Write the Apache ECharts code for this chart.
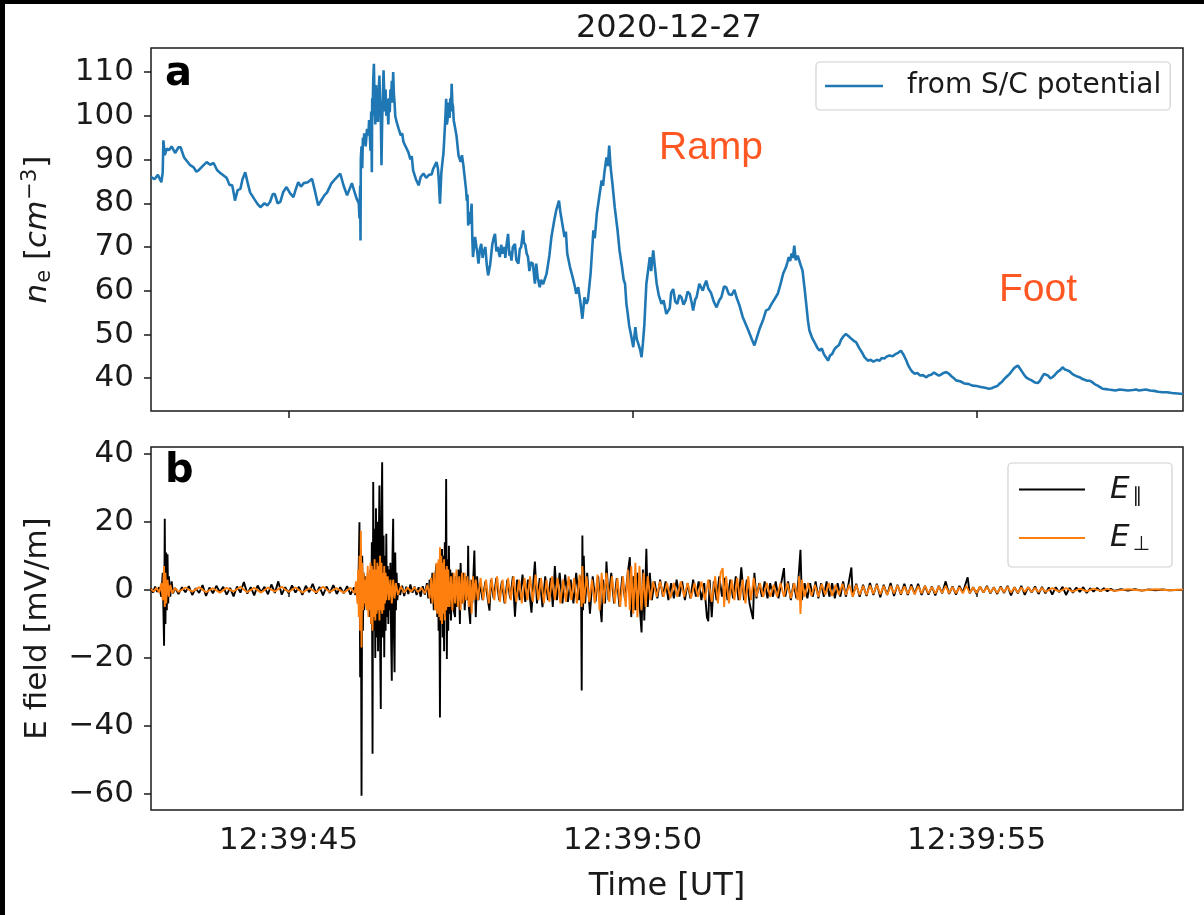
<!DOCTYPE html>
<html>
<head>
<meta charset="utf-8">
<script src="https://cdn.jsdelivr.net/npm/echarts@6/dist/echarts.min.js"></script>
<style>
html,body{margin:0;padding:0;background:#fff;}
#chart{width:1204px;height:915px;}
</style>
</head>
<body>
<div id="chart"></div>
<script>
// ---------- data (time in seconds after 12:39:00 UT) ----------
const dateTitle = '2020-12-27';
const xTickValues = [45, 50, 55];
const xTickLabels = ['12:39:45', '12:39:50', '12:39:55'];
const neTickValues = [40, 50, 60, 70, 80, 90, 100, 110];
const eTickValues = [-60, -40, -20, 0, 20, 40];
const seriesNames = ['from S/C potential', 'Epar', 'Eperp'];

// electron density from S/C potential [cm^-3]
const neData = [
[43.00,86.0],[43.05,85.5],[43.10,86.5],[43.15,84.8],[43.17,87.0],[43.18,94.4],[43.20,91.0],[43.23,92.5],[43.26,92.1],[43.30,93.0],
[43.35,91.5],[43.40,92.8],[43.43,92.8],[43.48,90.5],[43.53,89.5],[43.57,88.7],[43.62,88.2],[43.66,87.2],[43.69,87.5],[43.75,88.5],
[43.81,89.4],[43.86,88.8],[43.91,89.2],[43.96,87.6],[44.00,87.0],[44.05,86.4],[44.10,85.8],[44.14,84.2],[44.18,84.1],[44.20,82.5],
[44.22,80.6],[44.26,83.0],[44.30,83.3],[44.33,85.5],[44.37,87.1],[44.40,85.0],[44.44,82.5],[44.50,81.0],[44.55,79.8],[44.59,79.1],
[44.65,80.0],[44.69,79.5],[44.73,80.3],[44.77,82.1],[44.80,82.1],[44.84,80.0],[44.88,80.3],[44.92,82.5],[44.97,83.7],[45.02,82.3],
[45.07,81.4],[45.10,83.0],[45.14,84.8],[45.18,83.8],[45.22,84.6],[45.28,84.8],[45.34,85.6],[45.38,83.0],[45.43,79.5],[45.48,80.8],
[45.52,81.8],[45.56,82.5],[45.62,84.5],[45.68,85.6],[45.75,86.8],[45.80,84.0],[45.85,81.8],[45.88,83.0],[45.92,84.6],[45.95,83.0],
[45.99,81.0],[46.02,80.0],[46.03,76.5],[46.04,84.0],[46.045,71.5],[46.05,90.2],[46.06,93.0],[46.07,88.0],[46.08,95.0],[46.09,94.0],
[46.10,96.0],[46.12,93.0],[46.14,97.0],[46.16,95.5],[46.17,99.0],[46.18,96.0],[46.19,92.0],[46.20,101.0],[46.21,87.1],[46.215,104.0],
[46.22,100.0],[46.23,108.0],[46.24,111.9],[46.25,102.0],[46.26,98.0],[46.27,107.0],[46.28,104.0],[46.29,100.0],[46.30,98.6],[46.31,106.0],
[46.32,109.2],[46.33,103.0],[46.34,100.0],[46.35,88.7],[46.36,99.0],[46.37,104.0],[46.38,110.4],[46.39,105.0],[46.40,101.0],[46.41,106.0],
[46.42,100.0],[46.43,103.9],[46.44,101.0],[46.45,98.0],[46.46,104.0],[46.47,100.8],[46.48,106.0],[46.49,104.0],[46.50,108.0],[46.51,103.0],
[46.52,110.0],[46.53,105.0],[46.54,103.0],[46.55,100.0],[46.57,98.6],[46.60,97.0],[46.63,95.5],[46.65,96.0],[46.67,94.0],[46.70,93.0],
[46.74,91.7],[46.77,90.0],[46.79,90.8],[46.81,87.5],[46.85,85.5],[46.89,84.1],[46.92,86.0],[46.96,86.8],[47.00,85.8],[47.04,86.5],
[47.08,86.6],[47.10,87.8],[47.12,88.0],[47.15,89.4],[47.17,88.0],[47.18,86.0],[47.20,79.9],[47.22,87.0],[47.24,90.0],[47.25,91.3],
[47.26,94.0],[47.27,97.0],[47.28,100.0],[47.29,103.9],[47.30,98.0],[47.31,99.0],[47.32,103.0],[47.33,101.6],[47.34,99.5],[47.35,104.0],
[47.36,101.0],[47.37,107.3],[47.38,103.0],[47.39,102.0],[47.40,99.0],[47.42,98.6],[47.44,95.5],[47.45,94.0],[47.47,90.9],[47.50,89.5],
[47.52,91.0],[47.54,88.7],[47.56,89.0],[47.58,83.0],[47.59,80.6],[47.60,82.0],[47.61,74.9],[47.63,78.0],[47.64,75.3],[47.66,79.9],
[47.67,72.0],[47.68,67.7],[47.70,71.0],[47.71,72.3],[47.73,70.0],[47.74,69.0],[47.76,66.2],[47.78,69.5],[47.80,70.7],[47.82,67.5],
[47.83,68.5],[47.86,70.0],[47.88,66.0],[47.90,63.5],[47.93,66.0],[47.96,70.5],[47.98,72.0],[48.00,73.0],[48.02,69.0],[48.04,70.0],
[48.07,67.7],[48.09,70.5],[48.11,68.5],[48.14,70.0],[48.15,67.5],[48.17,70.7],[48.19,73.0],[48.21,68.0],[48.22,69.0],[48.24,66.9],
[48.26,70.0],[48.29,70.7],[48.31,67.0],[48.34,66.2],[48.36,69.5],[48.38,70.0],[48.41,73.8],[48.42,71.0],[48.44,70.5],[48.46,68.5],
[48.48,67.7],[48.50,64.5],[48.52,66.5],[48.55,66.2],[48.58,61.6],[48.60,66.2],[48.62,63.0],[48.65,60.8],[48.67,62.5],[48.70,61.5],
[48.75,63.9],[48.79,68.0],[48.82,72.3],[48.86,76.0],[48.89,78.4],[48.93,80.6],[48.95,78.0],[48.97,76.1],[49.01,72.3],[49.03,73.5],
[49.05,68.5],[49.09,65.4],[49.13,63.0],[49.16,61.0],[49.18,59.3],[49.21,60.8],[49.24,57.5],[49.27,53.6],[49.30,58.5],[49.33,57.0],
[49.35,57.8],[49.39,64.0],[49.43,73.8],[49.45,72.0],[49.48,77.6],[49.52,82.0],[49.55,85.2],[49.57,84.0],[49.59,87.0],[49.62,90.5],
[49.64,88.5],[49.66,93.2],[49.68,88.3],[49.71,84.0],[49.74,79.1],[49.78,74.0],[49.81,69.2],[49.85,65.0],[49.87,62.5],[49.89,61.6],
[49.91,57.0],[49.93,54.7],[49.95,52.0],[49.97,50.5],[50.01,47.1],[50.04,51.7],[50.06,49.0],[50.08,48.0],[50.11,46.5],[50.13,44.8],
[50.15,48.0],[50.17,52.0],[50.20,61.6],[50.22,64.0],[50.25,67.7],[50.27,64.5],[50.30,69.2],[50.32,66.0],[50.35,61.6],[50.38,59.0],
[50.42,57.0],[50.45,57.8],[50.49,54.7],[50.54,56.0],[50.56,59.5],[50.59,60.4],[50.62,57.5],[50.65,57.0],[50.68,59.0],[50.71,58.5],
[50.74,56.8],[50.77,57.8],[50.80,59.8],[50.83,59.3],[50.86,57.2],[50.88,55.5],[50.91,58.0],[50.93,58.5],[50.97,61.6],[51.02,60.0],
[51.05,61.5],[51.07,62.3],[51.10,60.5],[51.14,59.5],[51.18,57.5],[51.22,56.2],[51.26,57.8],[51.29,58.5],[51.33,61.0],[51.36,60.8],
[51.40,59.2],[51.44,59.0],[51.48,60.2],[51.51,58.5],[51.55,56.8],[51.60,54.0],[51.64,52.5],[51.68,51.0],[51.73,49.0],[51.77,47.5],
[51.81,49.5],[51.85,51.5],[51.90,53.5],[51.94,55.5],[51.98,55.8],[52.02,57.0],[52.06,58.0],[52.11,59.3],[52.15,61.5],[52.19,64.0],
[52.23,65.4],[52.25,66.5],[52.27,67.7],[52.29,66.8],[52.31,68.5],[52.33,67.5],[52.35,70.3],[52.37,67.0],[52.40,68.0],[52.44,66.0],
[52.47,64.6],[52.50,60.5],[52.52,57.5],[52.55,53.0],[52.57,50.9],[52.61,49.2],[52.65,48.0],[52.69,46.8],[52.72,46.3],[52.75,46.8],
[52.78,45.5],[52.81,44.8],[52.84,44.0],[52.87,45.2],[52.90,45.5],[52.93,46.5],[52.96,47.1],[53.00,47.6],[53.03,48.8],[53.06,49.5],
[53.10,50.1],[53.14,49.6],[53.18,49.0],[53.21,48.6],[53.25,48.2],[53.29,47.0],[53.33,46.0],[53.37,44.8],[53.42,44.0],[53.46,44.2],
[53.50,43.8],[53.55,44.2],[53.59,44.0],[53.62,44.6],[53.66,44.5],[53.70,45.0],[53.73,45.2],[53.78,45.0],[53.82,45.5],[53.86,45.8],
[53.90,46.3],[53.94,45.3],[53.98,44.0],[54.01,42.8],[54.04,42.0],[54.07,41.4],[54.10,41.0],[54.14,41.2],[54.18,40.6],[54.22,40.7],
[54.27,40.2],[54.30,40.6],[54.34,40.8],[54.38,41.3],[54.41,41.0],[54.45,40.6],[54.48,40.8],[54.52,41.2],[54.56,41.4],[54.60,41.0],
[54.63,40.5],[54.67,40.0],[54.70,39.5],[54.76,39.3],[54.82,38.8],[54.88,38.7],[54.94,38.3],[55.00,38.2],[55.06,38.0],[55.12,37.8],
[55.18,37.6],[55.22,37.7],[55.26,38.0],[55.30,38.2],[55.33,38.7],[55.37,39.2],[55.40,39.8],[55.44,40.4],[55.48,41.0],[55.51,41.6],
[55.54,42.2],[55.57,42.6],[55.60,42.9],[55.63,42.2],[55.66,41.5],[55.69,40.8],[55.72,40.2],[55.76,39.8],[55.80,39.5],[55.85,39.0],
[55.89,38.9],[55.92,39.4],[55.94,39.8],[55.96,40.5],[55.98,41.0],[56.01,40.8],[56.04,40.6],[56.07,40.0],[56.10,40.2],[56.14,40.8],
[56.18,41.5],[56.21,41.8],[56.25,42.5],[56.28,42.0],[56.32,41.8],[56.35,41.6],[56.39,41.0],[56.42,40.7],[56.46,40.4],[56.50,40.2],
[56.54,39.8],[56.58,39.6],[56.61,39.4],[56.65,39.4],[56.68,39.1],[56.72,38.6],[56.76,38.3],[56.80,37.9],[56.83,37.6],[56.88,37.5],
[56.92,37.4],[56.97,37.3],[57.02,37.2],[57.08,37.4],[57.14,37.3],[57.20,37.2],[57.27,37.3],[57.32,37.4],[57.36,37.2],[57.41,37.3],
[57.46,37.4],[57.52,37.2],[57.58,37.1],[57.64,36.9],[57.70,36.8],[57.77,36.8],[57.84,36.6],[57.92,36.5],[58.00,36.4]
];

// parallel electric field [mV/m]
const eParData = [
[43.00,0.5],[43.03,-0.8],[43.06,1.0],[43.09,-0.6],[43.12,0.8],[43.15,-2],[43.17,5],[43.19,-16.4],[43.20,20.9],[43.21,-10],
[43.22,11],[43.23,-6],[43.24,10.5],[43.25,-4],[43.26,4],[43.28,-2],[43.30,2.5],[43.32,-1],
[43.35,0.6],[43.40,-1.2],[43.45,0.8],[43.50,-0.7],[43.55,1.1],[43.60,-1.5],[43.65,0.5],[43.70,-0.9],[43.75,1.4],[43.80,-1.8],
[43.85,0.7],[43.90,-1.0],[43.95,1.2],[44.00,-0.6],[44.05,0.9],[44.10,-1.4],[44.15,0.6],[44.20,-1.9],[44.25,1.0],[44.30,-0.8],
[44.35,2.3],[44.40,-1.1],[44.45,0.8],[44.50,-1.6],[44.55,1.3],[44.60,-0.7],[44.65,0.9],[44.70,-1.3],[44.75,1.6],[44.80,-0.9],
[44.85,2.5],[44.90,-1.4],[44.95,0.8],[45.00,-1.0],[45.05,1.3],[45.10,-0.8],[45.15,0.9],[45.20,-1.5],[45.25,1.2],[45.30,-0.7],
[45.35,1.8],[45.40,-1.1],[45.45,0.9],[45.50,-1.6],[45.55,1.0],[45.60,-0.9],[45.65,1.4],[45.70,-1.2],[45.75,0.8],[45.80,-1.0],
[45.85,1.1],[45.90,-1.4],[45.95,0.7],
[45.97,-1.5],[45.99,2],[46.01,-4],[46.02,8],[46.03,19.9],[46.04,-25.7],[46.05,12],[46.06,-60.5],[46.07,10],[46.08,-12],
[46.09,5],[46.10,-6],[46.11,4],[46.12,-5],[46.13,3],[46.14,-4],[46.15,5],[46.16,-6],[46.17,4],[46.18,-8],
[46.19,6],[46.20,-10],[46.21,14],[46.22,-48.2],[46.23,31.7],[46.24,-12],[46.25,18],[46.26,-20],[46.27,24],[46.28,-14],
[46.29,20],[46.30,-18],[46.31,12],[46.32,30.7],[46.33,-16],[46.34,-35.0],[46.35,22],[46.36,37.5],[46.37,-14],[46.38,16],
[46.39,-19.8],[46.40,10],[46.41,-12],[46.42,16.5],[46.43,-8],[46.44,7],[46.45,-10],[46.46,6],[46.47,-6],[46.48,8],
[46.49,-14],[46.50,-26.7],[46.51,10],[46.52,20.9],[46.53,-12],[46.54,-24.2],[46.55,11],[46.56,-6],[46.57,5],[46.58,-3],
[46.60,2],[46.62,-1.5],[46.65,1.2],[46.68,-1.8],[46.71,0.9],[46.74,-1.2],[46.77,1.6],[46.80,-0.8],[46.83,1.0],[46.86,-1.5],
[46.89,0.8],[46.92,-2.0],[46.95,1.1],[46.98,-1.4],[47.01,2.0],[47.03,-2.5],
[47.05,3],[47.07,-4],[47.09,5],[47.11,-6],[47.13,4],[47.15,7.6],[47.16,-8],[47.17,6],[47.18,-12],[47.19,5],
[47.20,-37.5],[47.21,8],[47.22,-10],[47.23,12],[47.24,-14],[47.25,10],[47.26,-18],[47.27,14],[47.28,-8],[47.29,32.6],
[47.30,-20.3],[47.31,9],[47.32,-12],[47.33,13],[47.34,-7],[47.35,6],[47.36,-9],[47.38,5],[47.40,-6],[47.42,-8],
[47.43,4],[47.45,-5],[47.47,6],[47.49,-10],[47.50,7.9],[47.52,-4],[47.54,5],[47.56,-6],[47.58,4],[47.60,-3],
[47.61,13],[47.62,-5],[47.64,-10],[47.65,3],[47.67,-4],[47.70,11.6],[47.72,-8],[47.74,4],[47.76,-3],
[47.78,2],[47.82,-3],[47.86,2.5],[47.90,-3.5],[47.92,-6.1],[47.94,3],[47.98,-2.5],[48.02,3.5],[48.06,-3],[48.10,2.5],
[48.14,-4],[48.18,3],[48.22,-2.5],[48.26,4],[48.29,-7.9],[48.32,3],[48.36,-3],[48.40,4.5],[48.44,-3.5],[48.48,3],
[48.53,-6.7],[48.56,3],[48.58,8.3],[48.61,-4],[48.65,3.5],[48.69,-5.1],[48.73,4],[48.77,-3],[48.81,3.5],[48.84,-5],
[48.87,7.0],[48.90,-3],[48.94,5],[48.98,-4],[49.02,4.5],[49.06,-3.5],[49.10,3],[49.14,-4],[49.18,5],[49.22,-3],
[49.25,4],[49.26,-29.6],[49.27,16.0],[49.28,-6],[49.29,10],[49.31,-4],[49.34,5],[49.38,-7],[49.42,4],[49.46,-3.5],
[49.50,4],[49.53,-5],[49.55,-9.5],[49.57,3],[49.60,-4],[49.62,8.3],[49.65,-3],[49.69,5],[49.73,-4],[49.77,3.5],
[49.81,-5],[49.85,4],[49.89,-3],[49.93,5],[49.96,9.6],[49.98,-8.0],[50.01,4],[50.04,-6],[50.07,5],[50.10,-4],
[50.13,-12.5],[50.15,6],[50.17,-9],[50.20,12.1],[50.22,-5],[50.25,5],[50.28,-3],[50.32,2.5],[50.36,-2.5],[50.40,3],
[50.44,-2],[50.48,2.5],[50.52,-3],[50.56,2],[50.60,-2.5],[50.64,3],[50.68,-2],[50.72,2.5],[50.76,-3],[50.80,2],
[50.84,-2.5],[50.88,3],[50.92,-2],[50.96,2.5],[51.00,-3],[51.04,2],[51.08,-8],[51.10,-9.2],[51.12,3],[51.15,-8],
[51.18,2.5],[51.22,-3],[51.26,4],[51.30,-2],[51.34,3.5],[51.38,-3],[51.42,3],[51.46,-2.5],[51.50,4],[51.54,-3],
[51.58,6.6],[51.62,-3],[51.66,3],[51.70,-4],[51.75,-8.6],[51.77,5],[51.80,-2.5],[51.84,2],[51.88,-2],[51.92,2.5],
[51.96,-2.5],[52.00,2],[52.04,-2],[52.08,2.5],[52.12,-2.5],[52.16,2],[52.20,6.4],[52.22,-2],[52.26,2.5],[52.30,-3],
[52.34,2],[52.38,-2.5],[52.41,3],[52.44,11.8],[52.46,-3],[52.50,2],[52.54,-2.5],[52.58,2],[52.62,-2],[52.66,2.5],
[52.70,-2.5],[52.74,2],[52.78,-2],[52.82,2.5],[52.86,-2],[52.90,2],[52.94,-2.5],[52.98,2],[53.02,-2],[53.06,2.5],
[53.10,-2],[53.14,2],[53.18,6.6],[53.20,-2],[53.25,1.8],[53.30,-2],[53.35,1.5],[53.40,-1.8],[53.45,2],[53.50,-1.5],
[53.55,1.8],[53.60,-2.2],[53.65,1.5],[53.70,-1.5],[53.75,2.0],[53.80,-1.8],[53.85,1.5],[53.90,-1.4],[53.95,1.8],[54.00,-1.5],
[54.05,1.6],[54.10,-1.2],[54.15,1.8],[54.20,-1.5],[54.25,1.2],[54.30,-1.4],[54.35,1.0],[54.40,-1.6],[54.45,1.2],[54.50,-1.0],
[54.55,2.5],[54.60,-1.2],[54.65,1.0],[54.70,-1.4],[54.75,1.2],[54.80,-0.8],[54.87,3.7],[54.90,-1.0],[54.95,0.8],[55.00,-1.2],
[55.05,1.0],[55.10,-0.8],[55.15,1.2],[55.20,-1.0],[55.25,0.8],[55.30,-1.2],[55.35,1.0],[55.40,-0.9],[55.45,1.2],[55.50,-1.6],
[55.55,0.8],[55.60,-1.0],[55.65,1.2],[55.70,-1.5],[55.75,0.8],[55.80,-0.8],[55.85,1.0],[55.90,-1.2],[55.95,0.9],[56.00,-1.0],
[56.05,0.7],[56.10,-1.4],[56.15,0.8],[56.20,-0.7],[56.25,0.9],[56.30,-1.5],[56.35,0.6],[56.40,-0.8],[56.45,0.7],[56.50,-0.6],
[56.55,0.8],[56.60,-0.9],[56.65,0.5],[56.70,-0.5],[56.75,0.6],[56.80,-0.4],[56.85,0.5],[56.90,-0.4],[56.95,0.3],[57.00,-0.3],
[57.10,0.2],[57.20,-0.2],[57.30,0.2],[57.40,-0.2],[57.50,0.1],[57.60,-0.1],[57.70,0.1],[57.80,-0.1],[58.00,0]
];

// perpendicular electric field [mV/m]
const ePerpData = [
[43.00,0.3],[43.04,-0.5],[43.08,0.6],[43.12,-0.8],[43.15,2],[43.17,-3],[43.19,7],[43.20,-5],[43.21,5],[43.22,-4],
[43.24,3],[43.26,-2],[43.28,1.5],[43.31,-1],[43.35,0.6],
[43.40,-0.6],[43.50,0.7],[43.60,-0.5],[43.70,0.8],[43.80,-0.7],[43.90,0.5],[44.00,-0.8],[44.10,0.6],[44.20,-0.5],[44.30,0.9],
[44.40,-0.7],[44.50,0.6],[44.60,-0.8],[44.70,0.7],[44.80,-0.5],[44.90,0.9],[45.00,-0.6],[45.10,0.7],[45.20,-0.8],[45.30,0.5],
[45.40,-0.7],[45.50,0.9],[45.60,-0.6],[45.70,0.5],[45.80,-0.8],[45.90,0.6],
[45.96,-1],[45.98,2.5],[46.00,-4],[46.01,6],[46.02,-8],[46.03,10],[46.04,-12],[46.05,17.4],[46.06,-16.9],[46.07,8],
[46.08,-6],[46.09,5],[46.10,-4],[46.11,3],[46.12,-5],[46.13,4],[46.14,-6],[46.15,7],[46.16,-8],[46.17,5],
[46.18,-6],[46.19,8],[46.20,-10],[46.21,7],[46.22,-12],[46.23,6],[46.24,-8],[46.25,9],[46.26,-9],[46.27,6],
[46.28,-7],[46.29,8],[46.30,-6],[46.31,7],[46.32,-9],[46.33,10],[46.34,-6],[46.35,8],[46.36,-7],[46.37,5],
[46.38,-6],[46.39,7],[46.40,-4],[46.41,5],[46.42,-3],[46.44,4],[46.46,-3],[46.48,3],[46.50,-4],[46.52,3],
[46.54,-2.5],[46.56,2],[46.59,-1.5],[46.63,1],
[46.68,-0.8],[46.73,0.7],[46.78,-0.6],[46.83,0.8],[46.88,-0.7],[46.93,0.6],[46.98,-1.0],[47.02,1.5],[47.05,-2.5],[47.07,3.5],
[47.09,-4],[47.11,5],[47.13,-6],[47.15,8],[47.16,-7],[47.18,9],[47.19,-8],[47.20,12.5],[47.21,-9],[47.22,10],
[47.23,-10],[47.24,8],[47.25,-7],[47.26,9],[47.27,-9],[47.28,6],[47.29,-6],[47.30,7],[47.31,-5],[47.32,6],
[47.34,-5],[47.36,4],[47.38,-6],[47.40,5],[47.42,-4],[47.44,6],[47.46,-5],[47.48,4],[47.50,-6],[47.52,5],
[47.54,-4],[47.56,5],[47.58,-3],[47.60,4],[47.62,-5],[47.64,3],[47.66,-7],[47.68,4],[47.70,-3],[47.72,3],
[47.75,-3],[47.79,3.5],[47.83,-3],[47.87,3],[47.91,-4],[47.95,3.5],[47.99,-3],[48.03,4],[48.07,-3.5],[48.11,3],
[48.15,-4],[48.19,3.5],[48.23,-3],[48.27,4],[48.31,-3.5],[48.35,3],[48.39,-4],[48.43,3.5],[48.47,-3],[48.51,4],
[48.55,-3.5],[48.59,4.5],[48.63,-3],[48.67,3.5],[48.71,-4],[48.75,3],[48.79,-3.5],[48.83,4],[48.87,-3],[48.91,3.5],
[48.95,-4],[48.99,3],[49.03,-3.5],[49.07,4],[49.11,-3],[49.15,3.5],[49.19,-4],[49.23,4.5],[49.26,-5],[49.27,7],
[49.29,-4],[49.33,4],[49.37,-3.5],[49.41,3],[49.45,-4],[49.49,4.5],[49.52,-6],[49.55,5],[49.58,-4],[49.62,5],
[49.66,-3.5],[49.70,4],[49.74,-4],[49.78,3.5],[49.82,-5],[49.86,4],[49.90,-5],[49.93,6],[49.96,-6],[49.98,7],
[50.01,-7],[50.04,8],[50.07,-8],[50.10,7],[50.13,-6],[50.16,5],[50.19,-5],[50.22,4],[50.26,-3],[50.30,2.5],
[50.35,-2],[50.40,2.5],[50.45,-2],[50.50,2],[50.55,-2.5],[50.60,2],[50.65,-2],[50.70,2.5],[50.75,-2],[50.80,2],
[50.85,-2.5],[50.90,2],[50.95,-2],[51.00,2.5],[51.05,-3],[51.10,3],[51.15,-3.5],[51.20,4],[51.24,-4],[51.28,5],
[51.31,6.4],[51.33,-5],[51.36,4],[51.40,-4],[51.44,3],[51.48,-3],[51.52,3.5],[51.56,-3],[51.60,3],[51.64,-4],
[51.68,4],[51.72,-3],[51.76,3.5],[51.80,-2],[51.85,2],[51.90,-2],[51.95,2],[52.00,-2],[52.05,1.5],[52.10,-2],
[52.15,2],[52.20,-2],[52.25,2],[52.30,-2.5],[52.35,2],[52.40,-3],[52.42,4],[52.44,-7.1],[52.46,3],[52.50,-2],
[52.55,2],[52.60,-1.8],[52.65,1.5],[52.70,-2],[52.75,1.8],[52.80,-1.5],[52.85,2],[52.90,-1.8],[52.95,1.5],[53.00,-1.5],
[53.05,1.8],[53.10,-1.5],[53.15,1.5],[53.20,-2],[53.25,1.5],[53.30,-1.5],[53.35,1.2],[53.40,-1.5],[53.45,1.3],[53.50,-1.2],
[53.55,1.5],[53.60,-1.3],[53.65,1.2],[53.70,-1.5],[53.75,1.2],[53.80,-1.0],[53.85,1.3],[53.90,-1.2],[53.95,1.0],[54.00,-1.2],
[54.05,1.0],[54.10,-1.3],[54.15,1.1],[54.20,-1.0],[54.25,1.2],[54.30,-1.0],[54.35,0.9],[54.40,-1.1],[54.45,1.0],[54.50,-0.9],
[54.55,1.2],[54.60,-1.0],[54.65,0.9],[54.70,-1.0],[54.75,0.8],[54.80,-1.0],[54.85,1.2],[54.90,-0.9],[54.95,0.8],[55.00,-0.9],
[55.05,1.0],[55.10,-0.8],[55.15,0.9],[55.20,-0.8],[55.25,0.7],[55.30,-0.9],[55.35,0.8],[55.40,-0.7],[55.45,0.9],[55.50,-0.8],
[55.55,0.7],[55.60,-0.8],[55.65,0.7],[55.70,-0.6],[55.75,0.8],[55.80,-0.7],[55.85,0.6],[55.90,-0.7],[55.95,0.6],[56.00,-0.6],
[56.10,0.5],[56.20,-0.5],[56.30,0.5],[56.40,-0.5],[56.50,0.4],[56.60,-0.4],[56.70,0.4],[56.80,-0.3],[56.90,0.3],[57.00,-0.3],
[57.20,0.2],[57.40,-0.2],[57.60,0.2],[57.80,-0.1],[58.00,0.1]
];

// ---------- chart ----------
const FONT = 'DejaVu Sans';
const INK = '#1a1a1a';
const chart = echarts.init(document.getElementById('chart'), null, {renderer: 'canvas'});

function xLabel(v) {
  const i = xTickValues.indexOf(v);
  return i >= 0 ? xTickLabels[i] : '';
}

const commonX = {
  type: 'value', min: 43, max: 58,
  splitLine: {show: false},
  axisLine: {show: false},
  axisTick: {show: true, customValues: xTickValues, length: 7, lineStyle: {color: INK, width: 1.5}},
  axisLabel: {customValues: xTickValues, formatter: xLabel, fontFamily: FONT, fontSize: 31, color: INK, margin: 15}
};

const option = {
  animation: false,
  backgroundColor: '#fff',
  title: {
    text: dateTitle, left: 571, top: 8,
    textStyle: {fontFamily: FONT, fontSize: 32, fontWeight: 'normal', color: INK}
  },
  grid: [
    {left: 151, right: 21, top: 48, height: 363, show: true, borderColor: INK, borderWidth: 1.5, backgroundColor: 'transparent'},
    {left: 151, right: 21, top: 447, height: 363, show: true, borderColor: INK, borderWidth: 1.5, backgroundColor: 'transparent'}
  ],
  xAxis: [
    Object.assign({}, commonX, {gridIndex: 0, axisLabel: {show: false}}),
    Object.assign({}, commonX, {
      gridIndex: 1, name: 'Time [UT]', nameLocation: 'middle', nameGap: 61,
      nameTextStyle: {fontFamily: FONT, fontSize: 32, color: INK}
    })
  ],
  yAxis: [
    {
      gridIndex: 0, type: 'value', min: 32.5, max: 115.5,
      splitLine: {show: false}, axisLine: {show: false},
      axisTick: {show: true, customValues: neTickValues, length: 7, lineStyle: {color: INK, width: 1.5}},
      axisLabel: {customValues: neTickValues, fontFamily: FONT, fontSize: 31, color: INK, margin: 17},
      name: '{i|n}{sub|e}{n| [}{i|cm}{sup|−3}{n|]}', nameLocation: 'middle', nameGap: 96, nameRotate: 90,
      nameTextStyle: {
        fontFamily: FONT, fontSize: 31, color: INK,
        rich: {
          i: {fontFamily: FONT, fontSize: 31, fontStyle: 'italic', color: INK},
          n: {fontFamily: FONT, fontSize: 31, color: INK},
          sub: {fontFamily: FONT, fontSize: 21, color: INK, padding: [14, 0, 0, 1]},
          sup: {fontFamily: FONT, fontSize: 21, color: INK, padding: [0, 1, 14, 1]}
        }
      }
    },
    {
      gridIndex: 1, type: 'value', min: -64.7, max: 42.0,
      splitLine: {show: false}, axisLine: {show: false},
      axisTick: {show: true, customValues: eTickValues, length: 7, lineStyle: {color: INK, width: 1.5}},
      axisLabel: {customValues: eTickValues, fontFamily: FONT, fontSize: 31, color: INK, margin: 17,
        formatter: v => (v < 0 ? '\u2212' + Math.abs(v) : String(v))},
      name: 'E field [mV/m]', nameLocation: 'middle', nameGap: 98, nameRotate: 90,
      nameTextStyle: {fontFamily: FONT, fontSize: 31, color: INK}
    }
  ],
  legend: [
    {
      data: [seriesNames[0]], left: 816, top: 62, orient: 'vertical',
      icon: 'rect', itemWidth: 58, itemHeight: 2.5,
      padding: [10, 9], backgroundColor: '#fff', borderColor: '#d0d0d0', borderWidth: 1.2, borderRadius: 4,
      textStyle: {fontFamily: FONT, fontSize: 28, color: INK, padding: [0, 0, 0, 19]}
    },
    {
      data: [seriesNames[1], seriesNames[2]], left: 1008, top: 463, orient: 'vertical', itemGap: 16,
      icon: 'rect', itemWidth: 66, itemHeight: 2,
      padding: [11, 22, 12, 11], backgroundColor: '#fff', borderColor: '#d0d0d0', borderWidth: 1.2, borderRadius: 4,
      formatter: name => name === 'Epar' ? '{e|E}{s|∥}' : '{e|E}{s|⊥}',
      textStyle: {
        fontFamily: FONT, fontSize: 30, color: INK, padding: [0, 0, 0, 20],
        rich: {
          e: {fontFamily: FONT, fontSize: 31, fontStyle: 'italic', color: INK},
          s: {fontFamily: FONT, fontSize: 20, color: INK, padding: [14, 0, 0, 3]}
        }
      }
    }
  ],
  graphic: [
    {type: 'rect', left: 0, top: 0, shape: {width: 1204, height: 4}, style: {fill: '#000'}, z: 100},
    {type: 'rect', left: 0, top: 0, shape: {width: 5, height: 915}, style: {fill: '#000'}, z: 100},
    {type: 'text', left: 165, top: 55, style: {text: 'a', font: 'bold 40px "DejaVu Sans"', fill: '#000'}, z: 50},
    {type: 'text', left: 165, top: 452, style: {text: 'b', font: 'bold 40px "DejaVu Sans"', fill: '#000'}, z: 50},
    {type: 'text', left: 659, top: 129, style: {text: 'Ramp', font: '39px "Liberation Sans"', fill: '#ff5722'}, z: 50},
    {type: 'text', left: 999, top: 271, style: {text: 'Foot', font: '39px "Liberation Sans"', fill: '#ff5722'}, z: 50}
  ],
  series: [
    {
      name: seriesNames[0], type: 'line', xAxisIndex: 0, yAxisIndex: 0, data: neData,
      showSymbol: false, symbol: 'none', lineStyle: {color: '#1f77b4', width: 2.6}, itemStyle: {color: '#1f77b4'}
    },
    {
      name: seriesNames[1], type: 'line', xAxisIndex: 1, yAxisIndex: 1, data: eParData,
      showSymbol: false, symbol: 'none', lineStyle: {color: '#000', width: 1.9}, itemStyle: {color: '#000'}
    },
    {
      name: seriesNames[2], type: 'line', xAxisIndex: 1, yAxisIndex: 1, data: ePerpData,
      showSymbol: false, symbol: 'none', lineStyle: {color: '#ff7f0e', width: 1.9}, itemStyle: {color: '#ff7f0e'}
    }
  ]
};
chart.setOption(option);
</script>
</body>
</html>
